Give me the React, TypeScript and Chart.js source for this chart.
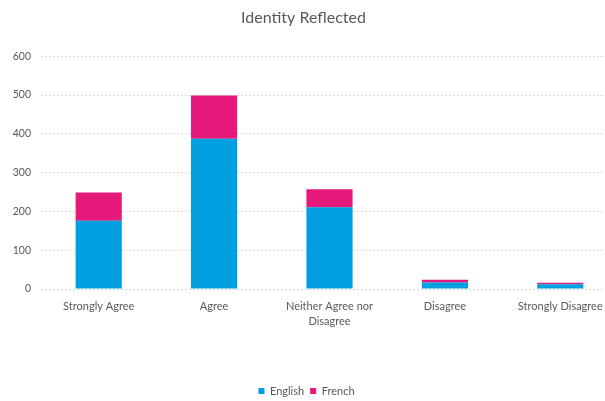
import React, { useEffect, useRef } from "react";
import { Chart, registerables } from "chart.js";

Chart.register(...registerables);

const TITLE = "Identity Reflected";
const CATEGORIES: (string | string[])[] = [
  "Strongly Agree",
  "Agree",
  ["Neither Agree nor", "Disagree"],
  "Disagree",
  "Strongly Disagree",
];
const ENGLISH = [176, 387, 211, 17, 12];
const FRENCH = [73, 112, 46, 7, 4];
const Y_MIN = 0;
const Y_MAX = 600;
const Y_STEP = 100;

const FONT = "Lato, 'Open Sans', sans-serif";
const TEXT = "#595959";

const shiftPlugin = {
  id: "shiftBoxes",
  afterLayout(chart: any) {
    const t = chart.titleBlock;
    if (t) {
      t.left -= 5.5;
      t.right -= 5.5;
    }
    const l = chart.legend;
    if (l) {
      l.left -= 2.5;
      l.right -= 2.5;
      l.top += 5.5;
      l.bottom += 5.5;
    }
  },
};

export default function App() {
  const ref = useRef<HTMLCanvasElement | null>(null);

  useEffect(() => {
    if (!ref.current) return;
    const chart = new Chart(ref.current, {
      type: "bar",
      data: {
        labels: CATEGORIES,
        datasets: [
          {
            label: "English",
            data: ENGLISH,
            backgroundColor: "#009FDF",
            categoryPercentage: 1,
            barPercentage: 0.4,
          },
          {
            label: "French",
            data: FRENCH,
            backgroundColor: "#E5197A",
            categoryPercentage: 1,
            barPercentage: 0.4,
          },
        ],
      },
      options: {
        responsive: false,
        animation: false,
        layout: { padding: { left: 0, right: 0, top: 0, bottom: 0 } },
        plugins: {
          title: {
            display: true,
            text: TITLE,
            color: TEXT,
            font: { family: FONT, size: 16, weight: "normal" },
            padding: { top: 8, bottom: 29 },
          },
          legend: {
            display: true,
            position: "bottom",
            labels: {
              color: TEXT,
              font: { family: FONT, size: 11 },
              boxWidth: 6,
              boxHeight: 6,
              padding: 6,
            },
          },
          tooltip: { enabled: false },
        },
        scales: {
          x: {
            stacked: true,
            grid: { display: false, drawTicks: false },
            border: { display: false },
            ticks: {
              color: TEXT,
              font: { family: FONT, size: 11, lineHeight: 1.45 },
              padding: 9,
              maxRotation: 0,
              autoSkip: false,
            },
            afterFit(scale: any) {
              scale.height = 85;
            },
          },
          y: {
            stacked: true,
            min: Y_MIN,
            max: Y_MAX,
            grid: {
              color: "#d9d9d9",
              lineWidth: 1,
              drawTicks: false,
            },
            border: { display: false, dash: [2, 2] },
            ticks: {
              stepSize: Y_STEP,
              color: TEXT,
              font: { family: FONT, size: 10.5 },
              padding: 10,
            },
            afterFit(scale: any) {
              scale.width = 41;
            },
          },
        },
      },
      plugins: [shiftPlugin],
    } as any);
    return () => chart.destroy();
  }, []);

  return (
    <div
      style={{
        position: "fixed",
        left: 0,
        top: 0,
        width: 605,
        height: 401,
        overflow: "hidden",
        background: "#fff",
      }}
    >
      <canvas ref={ref} width={618} height={401} style={{ display: "block" }} />
    </div>
  );
}
